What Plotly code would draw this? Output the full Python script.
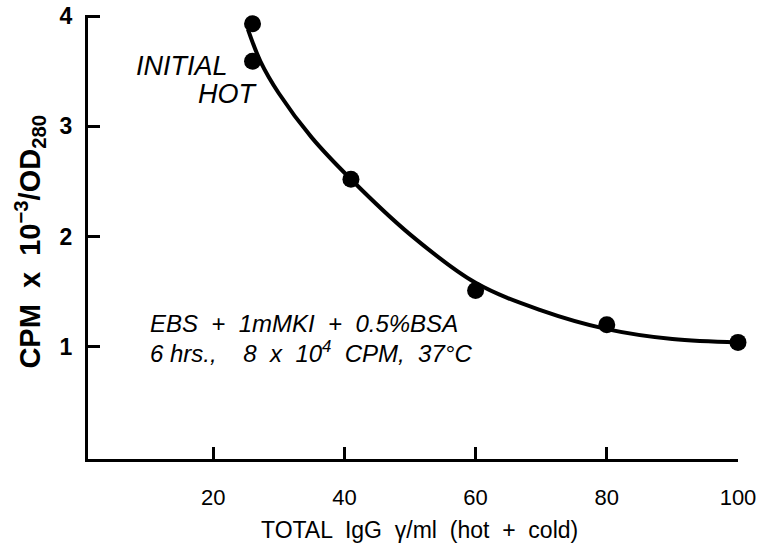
import plotly.graph_objects as go

# Measured points
pts_x = [26, 26, 41, 60, 80, 100]
pts_y = [3.93, 3.59, 2.52, 1.51, 1.20, 1.04]

# Fitted smooth curve
curve_x = [25.3, 27.2, 30, 35, 41, 50, 60, 70, 80, 90, 100]
curve_y = [3.88, 3.59, 3.30, 2.90, 2.52, 2.02, 1.58, 1.33, 1.16, 1.07, 1.04]

x_ticks = [20, 40, 60, 80, 100]
y_ticks = [1, 2, 3, 4]

FONT = "Liberation Sans"

fig = go.Figure()
fig.add_trace(go.Scatter(x=curve_x, y=curve_y, mode="lines",
                         line=dict(color="black", width=4, shape="spline", smoothing=1.0),
                         hoverinfo="skip", cliponaxis=False))
fig.add_trace(go.Scatter(x=pts_x, y=pts_y, mode="markers",
                         marker=dict(color="black", size=17), cliponaxis=False))

fig.update_layout(
    width=761, height=547,
    margin=dict(l=88, r=23, t=15, b=88, autoexpand=False),
    plot_bgcolor="white", paper_bgcolor="white",
    showlegend=False,
    font=dict(family=FONT, color="black"),
    xaxis=dict(range=[0.92, 100], showgrid=False, zeroline=False, automargin=False,
               showline=True, linecolor="black", linewidth=3,
               ticks="inside", ticklen=12, tickwidth=3, tickcolor="black",
               tickvals=x_ticks, ticktext=[str(v) for v in x_ticks],
               tickfont=dict(size=22, family=FONT), ticklabelstandoff=17),
    yaxis=dict(range=[-0.018, 4.01], showgrid=False, zeroline=False, automargin=False,
               showline=True, linecolor="black", linewidth=3,
               ticks="inside", ticklen=12, tickwidth=3, tickcolor="black",
               tickvals=y_ticks, ticktext=["<b>%d</b>" % v for v in y_ticks],
               tickfont=dict(size=23, family=FONT), ticklabelstandoff=8),
)

annots = [
    dict(text="TOTAL  IgG  γ/ml  (hot  +  cold)", xref="paper", yref="paper",
         x=0.51, y=-0.16, xanchor="center", yanchor="middle",
         font=dict(size=23, family=FONT)),
    dict(text="<b>CPM  x  10<sup>−3</sup>/OD<sub>280</sub></b>", xref="paper", yref="paper",
         x=-0.089, y=0.49, xanchor="center", yanchor="middle", textangle=-90,
         font=dict(size=29, family=FONT)),
    dict(text="<i>INITIAL</i>", xref="x", yref="y", x=22.6, y=3.55,
         xanchor="right", yanchor="middle", font=dict(size=27, family=FONT)),
    dict(text="<i>HOT</i>", xref="x", yref="y", x=27.2, y=3.29,
         xanchor="right", yanchor="middle", font=dict(size=27, family=FONT)),
    dict(text="<i>EBS  +  1mMKI  +  0.5%BSA</i>", xref="x", yref="y", x=10.0, y=1.21,
         xanchor="left", yanchor="middle", font=dict(size=24, family=FONT)),
    dict(text="<i>6 hrs.,    8  x  10<sup>4</sup>  CPM,  37°C</i>", xref="x", yref="y", x=10.0, y=0.95,
         xanchor="left", yanchor="middle", font=dict(size=24, family=FONT)),
]
for a in annots:
    a["showarrow"] = False
    fig.add_annotation(**a)

fig.write_html("out.html")
